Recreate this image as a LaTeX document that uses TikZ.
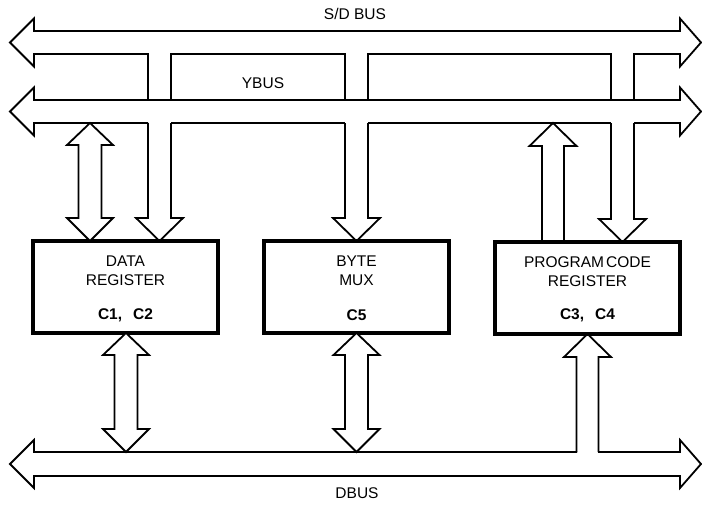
\documentclass[tikz,border=0pt]{standalone}
\usepackage{fontspec}
\setmainfont{Liberation Sans}
\begin{document}
\begin{tikzpicture}[x=1pt,y=-1pt,
  bus/.style={line width=1.8pt,line join=miter,black},
  blk/.style={line width=1.8pt,line join=miter,black,fill=white},
  regbox/.style={draw,line width=3.5pt,minimum width=185pt,minimum height=92pt,inner sep=0pt},
  lbl/.style={font=\fontsize{15.5}{18}\selectfont,inner sep=0pt},
  blbl/.style={font=\fontsize{15.5}{18}\selectfont\bfseries,inner sep=0pt}]
\useasboundingbox (0,0) rectangle (702,504);

% bidirectional block arrow: centre x, top tip y, bottom tip y
\newcommand\blkTwoWay[3]{%
  \draw[blk] ({#1},{#2}) -- ({#1+23},{#2+22}) -- ({#1+11.5},{#2+22})
    -- ({#1+11.5},{#3-23}) -- ({#1+23},{#3-23}) -- ({#1},{#3})
    -- ({#1-23},{#3-23}) -- ({#1-11.5},{#3-23}) -- ({#1-11.5},{#2+22})
    -- ({#1-23},{#2+22}) -- cycle;}
% one-way block arrow pointing down: centre x, open top y, tip y
\newcommand\blkDown[3]{%
  \draw[bus] ({#1-11.5},{#2}) -- ({#1-11.5},{#3-23}) -- ({#1-23.5},{#3-23})
    -- ({#1},{#3}) -- ({#1+23.5},{#3-23}) -- ({#1+11.5},{#3-23}) -- ({#1+11.5},{#2});}
% one-way block arrow pointing up: centre x, tip y, open bottom y
\newcommand\blkUp[3]{%
  \draw[bus] ({#1-11},{#3}) -- ({#1-11},{#2+23}) -- ({#1-23.5},{#2+23})
    -- ({#1},{#2}) -- ({#1+23.5},{#2+23}) -- ({#1+11},{#2+23}) -- ({#1+11},{#3});}

% registers
\node[regbox] (dreg) at (125.5,287) {};
\node[regbox] (bmux) at (356.5,287) {};
\node[regbox] (preg) at (587.5,288) {};

\node[lbl] (dregA) at ([yshift=-21.5pt]dreg.north) {DATA};
\node[lbl] (dregB) at ([yshift=-40.5pt]dreg.north) {REGISTER};
\node[blbl] (dregC) at ([yshift=-76pt]dreg.north) {C1,\hspace{11pt}C2};

\node[lbl] (bmuxA) at ([yshift=-21.5pt]bmux.north) {BYTE};
\node[lbl] (bmuxB) at ([yshift=-40.5pt]bmux.north) {MUX};
\node[blbl] (bmuxC) at ([yshift=-76pt]bmux.north) {C5};

\node[lbl] (pregA) at ([yshift=-22pt]preg.north) {PROGRAM\hspace{2pt}CODE};
\node[lbl] (pregB) at ([yshift=-40.5pt]preg.north) {REGISTER};
\node[blbl] (pregC) at ([yshift=-75.5pt]preg.north) {C3,\hspace{11pt}C4};

% S/D bus with its three drops
\draw[bus] (148,100) -- (148,54) -- (34,54) -- (34,66.5) -- (10,42.5) -- (34,18.5)
  -- (34,31) -- (680,31) -- (680,18.5) -- (701,42.5) -- (680,66.5) -- (680,54)
  -- (634,54) -- (634,100);
\draw[bus] (171,100) -- (171,54) -- (345,54) -- (345,100);
\draw[bus] (368,100) -- (368,54) -- (611,54) -- (611,100);
\node[lbl] (sdlabel) at (355,14) {S/D BUS};

% Y bus
\draw[bus] (148,123) -- (34,123) -- (34,135.5) -- (10,111.5) -- (34,87.5)
  -- (34,100) -- (680,100) -- (680,87.5) -- (701,111.5) -- (680,135.5)
  -- (680,123) -- (634,123);
\draw[bus] (171,123) -- (345,123);
\draw[bus] (368,123) -- (611,123);
\node[lbl] (ylabel) at (263,83) {YBUS};

% S/D drops into the registers
\blkDown{159.5}{123}{241}
\blkDown{356.5}{123}{241}
\blkDown{622.5}{123}{242}

% Y bus to data register, program code register to Y bus
\blkTwoWay{90}{123}{241}
\blkUp{553}{123}{242}

% D bus
\draw[bus] (577,452) -- (34,452) -- (34,440) -- (10,464) -- (34,488) -- (34,476)
  -- (680,476) -- (680,488) -- (701,464) -- (680,440) -- (680,452) -- (598,452);
\node[lbl] (dlabel) at (357,493) {DBUS};

\blkTwoWay{126}{333}{452}
\blkTwoWay{356.5}{333}{452}
\blkUp{587.5}{334}{452}
\end{tikzpicture}
\end{document}
